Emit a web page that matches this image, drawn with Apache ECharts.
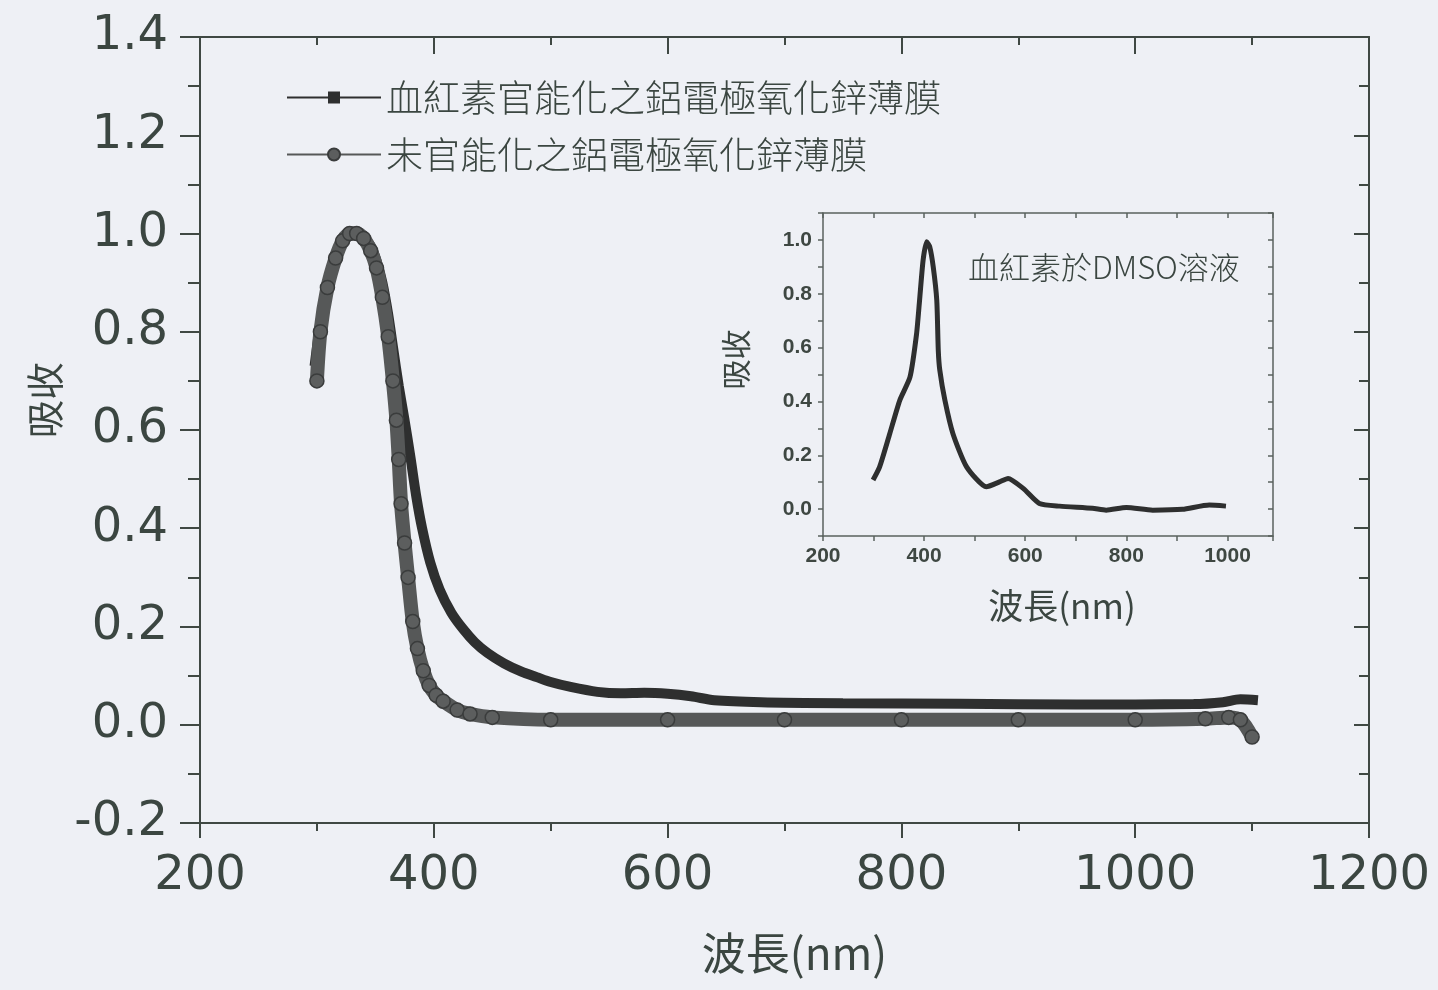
<!DOCTYPE html>
<html><head><meta charset="utf-8">
<script src="https://cdn.jsdelivr.net/npm/echarts@6/dist/echarts.min.js"></script>
<style>html,body{margin:0;padding:0;background:#eef0f5;} #c{width:1438px;height:990px;}</style>
</head><body><div id="c"></div>
<script>
// ---- data ----
const legendNames = ['血紅素官能化之鋁電極氧化鋅薄膜', '未官能化之鋁電極氧化鋅薄膜'];
const mainXName = '波長(nm)';
const mainYName = '吸收';
const insetTitle = '血紅素於DMSO溶液';

const funcWavelength = [298,303,309,316,322,328,334,340,346,351,356,361,365,370,375,380,385,390,397,405,415,425,435,446,460,475,488,500,517,540,560,580,600,620,640,680,750,850,950,1050,1075,1090,1105];
const funcAbsorbance = [0.73,0.82,0.90,0.95,0.985,1.0,1.0,0.99,0.975,0.945,0.9,0.835,0.77,0.69,0.62,0.545,0.465,0.4,0.33,0.275,0.228,0.195,0.168,0.146,0.125,0.108,0.097,0.087,0.077,0.067,0.064,0.065,0.063,0.058,0.05,0.046,0.044,0.043,0.041,0.042,0.046,0.052,0.05];

const unfuncWavelength = [300,303,309,316,322,328,334,340,346,351,356,361,365,368,370,372,375,378,382,386,391,396,402,408,420,431,450,500,600,700,800,900,1000,1060,1080,1090,1100];
const unfuncAbsorbance = [0.70,0.80,0.89,0.95,0.985,1.0,1.0,0.99,0.965,0.93,0.87,0.79,0.70,0.62,0.54,0.45,0.37,0.30,0.21,0.155,0.11,0.08,0.06,0.048,0.03,0.022,0.015,0.01,0.01,0.01,0.01,0.01,0.01,0.012,0.015,0.01,-0.025];

const insetWavelength = [299,312,332,352,372,385,391,398,405,411,418,425,428,431,441,457,484,523,549,566,596,628,668,733,760,800,852,911,964,997];
const insetAbsorbance = [0.108,0.157,0.28,0.405,0.49,0.65,0.776,0.925,0.993,0.975,0.9,0.776,0.59,0.516,0.405,0.28,0.157,0.083,0.101,0.114,0.077,0.021,0.011,0.003,-0.004,0.006,-0.004,-0.001,0.015,0.011];

// ---- styling ----
const ink = '#3b4641';
const frame = '#3f4843';
const cjk = '"Noto Sans CJK TC", "Noto Sans CJK SC", sans-serif';
const zip = (xs, ys) => xs.map((x, i) => [x, ys[i]]);

function mainAxis(pos, isY, inside, len, minorLen, showLabel) {
  return {
    type: 'value', gridIndex: 0, position: pos,
    min: isY ? -0.2 : 200, max: isY ? 1.4 : 1200, interval: isY ? 0.2 : 200,
    axisLine: { show: true, onZero: false, lineStyle: { color: frame, width: 2 } },
    axisTick: { show: true, inside: inside, length: len, lineStyle: { color: frame, width: 2 } },
    minorTick: { show: true, splitNumber: 2, length: minorLen, lineStyle: { color: frame, width: 2 } },
    splitLine: { show: false },
    axisLabel: { show: showLabel, fontSize: 48, fontFamily: 'DejaVu Sans', color: ink,
      margin: isY ? 32 : 30, formatter: isY ? (v => v.toFixed(1)) : (v => String(Math.round(v))) }
  };
}
function insetAxis(pos, isY, inside, showLabel) {
  return {
    type: 'value', gridIndex: 1, position: pos,
    min: isY ? -0.1 : 200, max: isY ? 1.1 : 1090, interval: isY ? 0.1 : 100,
    axisLine: { show: true, onZero: false, lineStyle: { color: '#5a625e', width: 1.5 } },
    axisTick: { show: true, inside: inside, length: 5, lineStyle: { color: '#5a625e', width: 1.5 } },
    splitLine: { show: false },
    axisLabel: { show: showLabel, fontSize: 21, fontWeight: 'bold', fontFamily: 'Liberation Sans', color: '#3e4742',
      margin: isY ? 11 : 10,
      showMaxLabel: true, showMinLabel: true,
      formatter: isY
        ? (v => { const k = Math.round(v * 10); return (k >= 0 && k <= 10 && k % 2 === 0) ? (k / 10).toFixed(1) : ''; })
        : (v => { const r = Math.round(v); return (r % 200 === 0 && r <= 1000) ? String(r) : ''; }) }
  };
}

const xMain = mainAxis('bottom', false, false, 15, 8, true);
xMain.name = mainXName; xMain.nameLocation = 'middle'; xMain.nameGap = 108;
xMain.nameTextStyle = { fontSize: 44, fontFamily: cjk, color: ink, padding: [0, 0, 0, 20] };
const yMain = mainAxis('left', true, false, 20, 12, true);
yMain.name = mainYName; yMain.nameLocation = 'middle'; yMain.nameGap = 136;
yMain.nameTextStyle = { fontSize: 38, fontFamily: cjk, color: ink, padding: [0, 0, 0, 60] };

const xInset = insetAxis('bottom', false, false, true);
xInset.name = mainXName; xInset.nameLocation = 'middle'; xInset.nameGap = 52;
xInset.nameTextStyle = { fontSize: 35, fontFamily: cjk, color: ink, padding: [0, 0, 0, 28] };
const yInset = insetAxis('left', true, false, true);
yInset.name = mainYName; yInset.nameLocation = 'middle'; yInset.nameGap = 72;
yInset.nameTextStyle = { fontSize: 30, fontFamily: cjk, color: ink, padding: [0, 0, 0, 30] };

const option = {
  animation: false,
  backgroundColor: '#eef0f5',
  grid: [
    { left: 200, top: 37, right: 69, bottom: 167 },
    { left: 823, top: 213, width: 450, height: 323 }
  ],
  xAxis: [xMain, mainAxis('top', false, true, 17, 8, false), xInset, insetAxis('top', false, true, false)],
  yAxis: [yMain, mainAxis('right', true, true, 15, 10, false), yInset, insetAxis('right', true, true, false)],
  legend: {
    data: legendNames, orient: 'vertical', left: 281, top: 74,
    itemWidth: 94, itemHeight: 15, itemGap: 20,
    textStyle: { fontSize: 37, fontFamily: cjk, color: ink, fontWeight: 300 },
    lineStyle: { width: 2 }
  },
  graphic: [{
    type: 'text', left: 968, top: 252,
    style: { text: insetTitle, fontSize: 31, fontFamily: cjk, fill: ink, fontWeight: 300 }
  }],
  series: [
    { type: 'line', name: legendNames[0], xAxisIndex: 0, yAxisIndex: 0,
      data: zip(funcWavelength, funcAbsorbance), smooth: 0.3,
      symbol: 'rect', symbolSize: 10, showSymbol: false,
      lineStyle: { color: '#2e2f2f', width: 10 }, itemStyle: { color: '#2e2f2f' }, z: 2 },
    { type: 'line', name: legendNames[1], xAxisIndex: 0, yAxisIndex: 0,
      data: zip(unfuncWavelength, unfuncAbsorbance), smooth: 0.3,
      symbol: 'circle', symbolSize: 14, showSymbol: true, showAllSymbol: true,
      lineStyle: { color: '#565858', width: 14 },
      itemStyle: { color: '#5c5e5e', borderColor: '#3a3c3c', borderWidth: 1.5 }, z: 3 },
    { type: 'line', name: 'inset', xAxisIndex: 2, yAxisIndex: 2,
      data: zip(insetWavelength, insetAbsorbance), smooth: 0.2,
      showSymbol: false, symbol: 'none',
      lineStyle: { color: '#2e2f2f', width: 5 }, z: 2 }
  ]
};
const chart = echarts.init(document.getElementById('c'), null, { renderer: 'canvas' });
chart.setOption(option);
</script>
</body></html>
